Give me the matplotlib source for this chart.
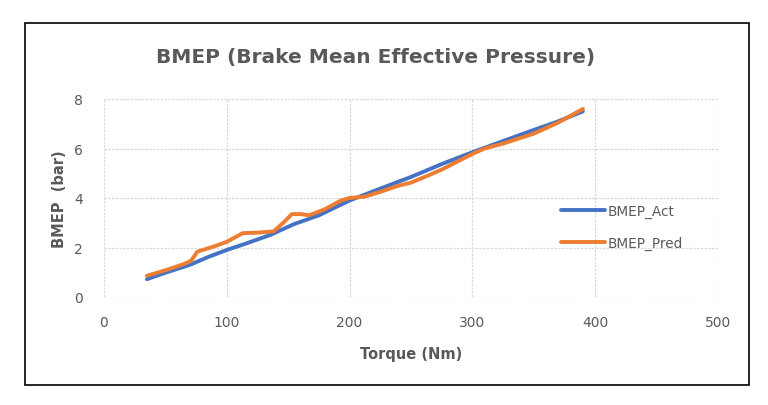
import matplotlib.pyplot as plt
from matplotlib.patches import Rectangle

# datos
torque_act = [35, 50, 70, 85, 100, 115, 135, 155, 175, 200, 225, 250, 275, 300, 325, 350, 370, 390]
bmep_act = [0.72, 0.98, 1.3, 1.62, 1.9, 2.15, 2.5, 2.95, 3.3, 3.9, 4.38, 4.85, 5.37, 5.85, 6.3, 6.75, 7.1, 7.5]

torque_pred = [35, 50, 65, 71, 76, 90, 100, 113, 125, 138, 146, 153, 160, 167, 180, 193, 200,
               212, 225, 240, 250, 265, 276, 285, 300, 310, 325, 350, 370, 390]
bmep_pred = [0.86, 1.08, 1.33, 1.47, 1.83, 2.05, 2.23, 2.58, 2.6, 2.65, 3.0, 3.35, 3.35, 3.3,
             3.55, 3.9, 4.0, 4.05, 4.25, 4.5, 4.62, 4.93, 5.17, 5.4, 5.78, 6.0, 6.2, 6.6, 7.05, 7.6]

xticks = [0, 100, 200, 300, 400, 500]
yticks = [0, 2, 4, 6, 8]

gris = "#595959"
plt.rcParams["font.family"] = ["DejaVu Sans"]

fig = plt.figure(figsize=(7.68, 4.06), dpi=100)
ax = fig.add_axes([104 / 768, 108 / 406, 614 / 768, 198 / 406])

ax.plot(torque_act, bmep_act, color="#4472C4", lw=2.8, solid_joinstyle="round",
        solid_capstyle="round", label="BMEP_Act")
ax.plot(torque_pred, bmep_pred, color="#ED7D31", lw=2.8, solid_joinstyle="round",
        solid_capstyle="round", label="BMEP_Pred")

ax.set_xlim(0, 500)
ax.set_ylim(0, 8)
ax.set_xticks(xticks)
ax.set_yticks(yticks)
ax.grid(True, color="#d9d9d9", lw=0.9, ls=(0, (2, 1)))
ax.set_axisbelow(True)
for s in ax.spines.values():
    s.set_visible(False)
ax.tick_params(length=0, labelsize=10, colors=gris)
ax.tick_params(axis="x", pad=13)
ax.tick_params(axis="y", pad=15)

ax.set_xlabel("Torque (Nm)", fontsize=10.5, fontweight="bold", color=gris, labelpad=12)
ax.set_ylabel("BMEP  (bar)", fontsize=10.5, fontweight="bold", color=gris, labelpad=5)

fig.text(376 / 768, 348 / 406, "BMEP (Brake Mean Effective Pressure)", ha="center", va="center",
         fontsize=14.5, fontweight="bold", color=gris)

leg = ax.legend(loc="center left", bbox_to_anchor=(0.725, 0.355), frameon=False, fontsize=9.8,
                handlelength=3.2, handletextpad=0.2, labelspacing=1.3)
for t in leg.get_texts():
    t.set_color(gris)

fig.patches.append(Rectangle((25 / 768, 20 / 406), 724 / 768, 362 / 406, transform=fig.transFigure,
                             fill=False, edgecolor="black", lw=1.2))

fig.savefig("out.png", dpi=100)
